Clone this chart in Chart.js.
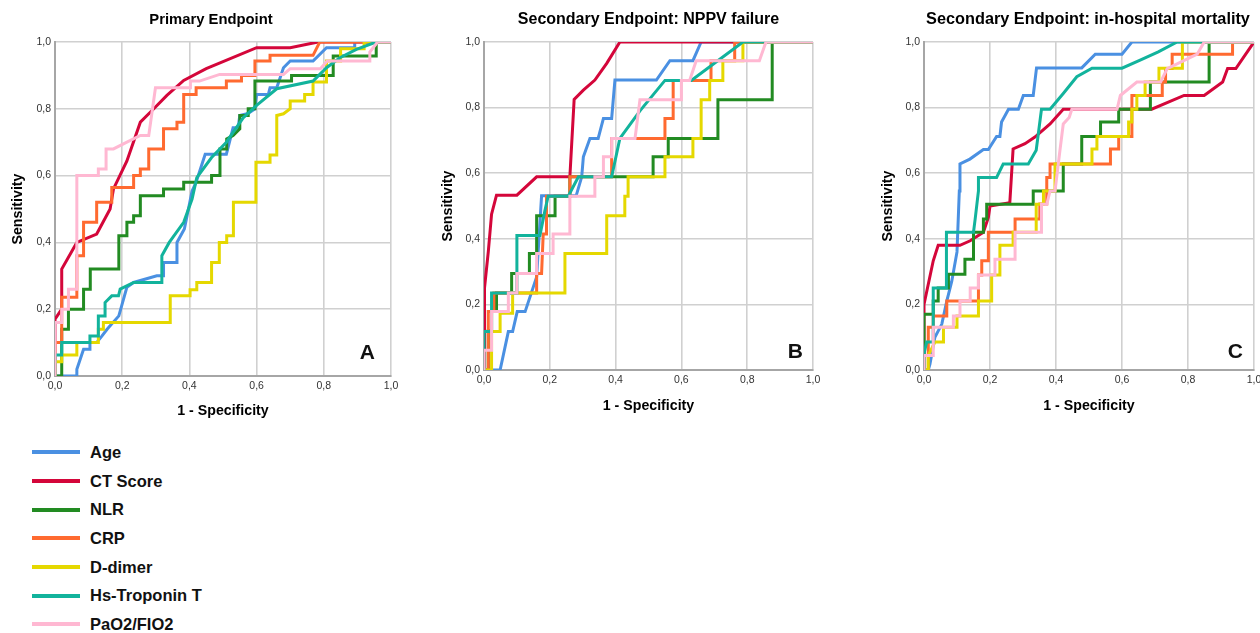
<!DOCTYPE html>
<html><head><meta charset="utf-8">
<script src="https://cdn.jsdelivr.net/npm/chart.js@4"></script>
<style>
html,body{margin:0;padding:0;background:#fff;width:1260px;height:633px;overflow:hidden;position:relative;}
canvas{position:absolute;top:0;}
#legend{position:absolute;left:32px;top:438px;font:bold 16.5px "Liberation Sans",Arial,sans-serif;color:#111;}
.row{display:flex;align-items:center;height:28.7px;white-space:nowrap;}
.sw{width:48px;height:4px;margin-right:10px;}
</style></head><body>
<canvas id="cA" width="422" height="426" style="left:0px"></canvas>
<canvas id="cB" width="436" height="420" style="left:430px"></canvas>
<canvas id="cC" width="436" height="420" style="left:870px"></canvas>
<div id="legend"></div>
<script>
// ---- labels ----
const tickLabels = ['0,0','0,2','0,4','0,6','0,8','1,0'];
const seriesNames = ['Age','CT Score','NLR','CRP','D-dimer','Hs-Troponin T','PaO2/FIO2'];
const panelTitles = ['Primary Endpoint','Secondary Endpoint: NPPV failure','Secondary Endpoint: in-hospital mortality'];
const panelLetters = ['A','B','C'];
const xTitle = '1 - Specificity';
const yTitle = 'Sensitivity';

// ---- Panel A: primary endpoint, [1-specificity, sensitivity] ----
const primaryAge = [[0,0],[0.065,0],[0.065,0.02],[0.085,0.08],[0.104,0.08],[0.104,0.1],[0.124,0.1],[0.14,0.12],[0.155,0.14],[0.19,0.18],[0.214,0.266],[0.234,0.28],[0.303,0.3],[0.323,0.3],[0.323,0.34],[0.363,0.34],[0.363,0.4],[0.385,0.44],[0.408,0.554],[0.42,0.58],[0.447,0.664],[0.51,0.664],[0.53,0.743],[0.545,0.743],[0.55,0.78],[0.575,0.786],[0.595,0.8],[0.6,0.843],[0.635,0.843],[0.64,0.863],[0.66,0.863],[0.68,0.923],[0.7,0.943],[0.768,0.943],[0.808,0.983],[0.892,0.983],[0.892,1],[1,1]];
const primaryCT = [[0,0],[0,0.17],[0.02,0.2],[0.02,0.32],[0.065,0.4],[0.124,0.425],[0.164,0.5],[0.174,0.56],[0.214,0.644],[0.254,0.76],[0.294,0.8],[0.333,0.84],[0.383,0.885],[0.45,0.92],[0.6,0.983],[0.7,0.983],[0.783,1],[1,1]];
const primaryNLR = [[0,0],[0.02,0],[0.02,0.14],[0.04,0.14],[0.04,0.2],[0.085,0.2],[0.085,0.26],[0.105,0.26],[0.105,0.32],[0.19,0.32],[0.19,0.42],[0.214,0.42],[0.214,0.46],[0.234,0.46],[0.234,0.48],[0.254,0.48],[0.254,0.54],[0.323,0.54],[0.323,0.56],[0.383,0.56],[0.383,0.58],[0.466,0.58],[0.466,0.6],[0.491,0.6],[0.491,0.68],[0.511,0.68],[0.511,0.71],[0.53,0.72],[0.55,0.74],[0.55,0.78],[0.575,0.78],[0.575,0.8],[0.595,0.8],[0.595,0.883],[0.704,0.883],[0.704,0.9],[0.828,0.9],[0.828,0.958],[0.956,0.958],[0.956,1],[1,1]];
const primaryCRP = [[0,0],[0,0.1],[0.02,0.1],[0.02,0.236],[0.065,0.236],[0.065,0.36],[0.085,0.36],[0.085,0.46],[0.124,0.46],[0.124,0.52],[0.169,0.52],[0.169,0.564],[0.234,0.564],[0.234,0.6],[0.254,0.6],[0.254,0.62],[0.279,0.62],[0.279,0.68],[0.323,0.68],[0.323,0.74],[0.363,0.74],[0.363,0.76],[0.383,0.76],[0.383,0.843],[0.42,0.843],[0.42,0.863],[0.51,0.863],[0.51,0.883],[0.555,0.883],[0.555,0.9],[0.595,0.9],[0.595,0.943],[0.64,0.943],[0.64,0.96],[0.768,0.96],[0.788,1],[1,1]];
const primaryDdimer = [[0,0],[0,0.043],[0.02,0.043],[0.02,0.063],[0.065,0.063],[0.065,0.1],[0.129,0.1],[0.129,0.14],[0.144,0.14],[0.144,0.16],[0.343,0.16],[0.343,0.24],[0.402,0.24],[0.402,0.258],[0.422,0.258],[0.422,0.28],[0.466,0.28],[0.466,0.34],[0.489,0.34],[0.489,0.4],[0.511,0.4],[0.511,0.42],[0.531,0.42],[0.531,0.52],[0.598,0.52],[0.598,0.64],[0.64,0.64],[0.64,0.662],[0.66,0.662],[0.66,0.78],[0.68,0.785],[0.7,0.8],[0.7,0.823],[0.743,0.823],[0.743,0.843],[0.768,0.843],[0.768,0.88],[0.808,0.88],[0.808,0.943],[0.85,0.943],[0.85,0.98],[0.92,0.98],[0.92,1],[1,1]];
const primaryTrop = [[0,0],[0,0.063],[0.02,0.063],[0.02,0.1],[0.104,0.1],[0.104,0.12],[0.129,0.12],[0.129,0.18],[0.149,0.18],[0.149,0.22],[0.169,0.24],[0.189,0.24],[0.194,0.26],[0.234,0.28],[0.318,0.28],[0.318,0.36],[0.34,0.4],[0.383,0.46],[0.408,0.53],[0.422,0.594],[0.466,0.654],[0.51,0.7],[0.56,0.773],[0.6,0.81],[0.66,0.86],[0.768,0.883],[0.808,0.923],[0.848,0.953],[0.897,0.978],[0.956,1],[1,1]];
const primaryPaO2 = [[0,0],[0,0.16],[0.02,0.16],[0.02,0.2],[0.04,0.2],[0.04,0.26],[0.065,0.26],[0.065,0.6],[0.129,0.6],[0.129,0.62],[0.152,0.62],[0.152,0.68],[0.174,0.68],[0.214,0.7],[0.254,0.72],[0.279,0.72],[0.299,0.863],[0.403,0.863],[0.403,0.883],[0.43,0.883],[0.49,0.903],[0.68,0.903],[0.7,0.92],[0.79,0.92],[0.81,0.943],[0.937,0.943],[0.937,0.97],[0.96,1],[1,1]];

// ---- Panel B: NPPV failure ----
const nppvAge = [[0,0],[0.049,0],[0.074,0.117],[0.087,0.117],[0.101,0.178],[0.125,0.178],[0.16,0.284],[0.175,0.531],[0.28,0.531],[0.297,0.589],[0.302,0.65],[0.322,0.706],[0.347,0.706],[0.363,0.767],[0.388,0.767],[0.398,0.884],[0.524,0.884],[0.565,0.943],[0.635,0.943],[0.66,1],[1,1]];
const nppvCT = [[0,0],[0,0.12],[0.003,0.25],[0.013,0.36],[0.023,0.475],[0.038,0.533],[0.1,0.533],[0.16,0.589],[0.261,0.589],[0.274,0.825],[0.302,0.853],[0.337,0.884],[0.373,0.935],[0.413,1],[1,1]];
const nppvNLR = [[0,0],[0.013,0],[0.013,0.12],[0.023,0.12],[0.023,0.178],[0.038,0.178],[0.038,0.235],[0.084,0.235],[0.084,0.294],[0.138,0.294],[0.138,0.355],[0.16,0.355],[0.16,0.47],[0.216,0.47],[0.216,0.53],[0.261,0.53],[0.261,0.589],[0.514,0.589],[0.514,0.65],[0.56,0.65],[0.56,0.706],[0.711,0.706],[0.711,0.824],[0.876,0.824],[0.876,1],[1,1]];
const nppvCRP = [[0,0],[0.013,0],[0.013,0.178],[0.03,0.178],[0.03,0.235],[0.16,0.235],[0.16,0.294],[0.175,0.294],[0.18,0.415],[0.19,0.415],[0.19,0.53],[0.261,0.53],[0.261,0.589],[0.388,0.589],[0.388,0.706],[0.55,0.706],[0.55,0.767],[0.575,0.767],[0.575,0.883],[0.69,0.883],[0.69,0.943],[0.762,0.943],[0.762,1],[1,1]];
const nppvDdimer = [[0,0],[0.023,0],[0.023,0.117],[0.049,0.117],[0.049,0.173],[0.087,0.173],[0.087,0.235],[0.246,0.235],[0.246,0.355],[0.373,0.355],[0.373,0.47],[0.428,0.47],[0.428,0.53],[0.438,0.53],[0.438,0.589],[0.55,0.589],[0.55,0.65],[0.635,0.65],[0.635,0.706],[0.66,0.706],[0.66,0.824],[0.686,0.824],[0.686,0.883],[0.726,0.883],[0.726,0.943],[0.787,0.943],[0.787,1],[1,1]];
const nppvTrop = [[0,0],[0,0.117],[0.023,0.117],[0.023,0.235],[0.1,0.235],[0.1,0.41],[0.17,0.41],[0.185,0.485],[0.195,0.53],[0.256,0.53],[0.287,0.589],[0.388,0.589],[0.413,0.706],[0.474,0.79],[0.55,0.883],[0.63,0.883],[0.787,1],[1,1]];
const nppvPaO2 = [[0,0],[0,0.06],[0.023,0.06],[0.023,0.178],[0.074,0.178],[0.074,0.235],[0.1,0.235],[0.1,0.294],[0.16,0.294],[0.16,0.355],[0.21,0.355],[0.21,0.415],[0.261,0.415],[0.261,0.53],[0.337,0.53],[0.337,0.589],[0.363,0.589],[0.363,0.65],[0.388,0.65],[0.388,0.706],[0.459,0.706],[0.474,0.824],[0.6,0.824],[0.6,0.883],[0.625,0.883],[0.645,0.943],[0.837,0.943],[0.857,1],[1,1]];

// ---- Panel C: in-hospital mortality ----
const mortAge = [[0,0],[0.013,0],[0.018,0.018],[0.033,0.1],[0.054,0.14],[0.069,0.21],[0.084,0.27],[0.1,0.36],[0.107,0.546],[0.109,0.628],[0.139,0.643],[0.18,0.672],[0.195,0.672],[0.22,0.712],[0.23,0.712],[0.235,0.756],[0.256,0.795],[0.286,0.795],[0.301,0.837],[0.331,0.837],[0.341,0.921],[0.478,0.921],[0.519,0.963],[0.6,0.963],[0.63,1],[1,1]];
const mortCT = [[0,0],[0,0.2],[0.028,0.333],[0.043,0.38],[0.109,0.38],[0.14,0.394],[0.18,0.42],[0.195,0.465],[0.2,0.5],[0.26,0.51],[0.27,0.674],[0.306,0.69],[0.336,0.71],[0.382,0.75],[0.422,0.795],[0.69,0.795],[0.788,0.837],[0.849,0.837],[0.905,0.878],[0.92,0.919],[0.945,0.919],[1,1]];
const mortNLR = [[0,0],[0,0.17],[0.028,0.17],[0.028,0.21],[0.043,0.21],[0.043,0.25],[0.074,0.25],[0.074,0.292],[0.124,0.292],[0.124,0.338],[0.15,0.338],[0.15,0.42],[0.18,0.42],[0.18,0.46],[0.19,0.46],[0.19,0.505],[0.331,0.505],[0.331,0.546],[0.422,0.546],[0.422,0.628],[0.478,0.628],[0.478,0.712],[0.535,0.712],[0.535,0.756],[0.59,0.756],[0.59,0.795],[0.686,0.795],[0.686,0.878],[0.864,0.878],[0.864,1],[1,1]];
const mortCRP = [[0,0],[0.013,0],[0.013,0.13],[0.028,0.13],[0.028,0.165],[0.069,0.165],[0.069,0.21],[0.165,0.21],[0.165,0.29],[0.175,0.29],[0.175,0.333],[0.195,0.333],[0.195,0.42],[0.276,0.42],[0.276,0.46],[0.351,0.46],[0.351,0.506],[0.372,0.506],[0.372,0.587],[0.382,0.587],[0.382,0.628],[0.565,0.628],[0.565,0.674],[0.59,0.674],[0.59,0.712],[0.63,0.712],[0.63,0.837],[0.722,0.837],[0.722,0.878],[0.732,0.878],[0.732,0.919],[0.752,0.919],[0.752,0.963],[0.935,0.963],[0.935,1],[1,1]];
const mortDdimer = [[0,0],[0.013,0],[0.013,0.044],[0.033,0.085],[0.059,0.085],[0.059,0.13],[0.1,0.13],[0.1,0.165],[0.165,0.165],[0.165,0.21],[0.205,0.21],[0.205,0.29],[0.23,0.29],[0.23,0.38],[0.27,0.38],[0.27,0.42],[0.34,0.42],[0.34,0.505],[0.362,0.505],[0.362,0.546],[0.397,0.546],[0.397,0.628],[0.509,0.628],[0.509,0.674],[0.524,0.674],[0.524,0.712],[0.62,0.712],[0.62,0.756],[0.63,0.756],[0.63,0.795],[0.645,0.795],[0.645,0.837],[0.67,0.837],[0.67,0.878],[0.712,0.878],[0.712,0.92],[0.783,0.92],[0.783,1],[1,1]];
const mortTrop = [[0,0],[0,0.05],[0.008,0.085],[0.028,0.085],[0.028,0.25],[0.068,0.25],[0.068,0.42],[0.15,0.42],[0.155,0.46],[0.165,0.546],[0.165,0.587],[0.22,0.587],[0.24,0.628],[0.316,0.628],[0.34,0.67],[0.356,0.795],[0.382,0.795],[0.422,0.843],[0.463,0.894],[0.509,0.92],[0.6,0.92],[0.655,0.945],[0.71,0.97],[0.767,1],[1,1]];
const mortPaO2 = [[0,0],[0,0.044],[0.028,0.044],[0.028,0.13],[0.089,0.13],[0.089,0.165],[0.109,0.165],[0.109,0.21],[0.14,0.21],[0.14,0.25],[0.165,0.25],[0.165,0.29],[0.215,0.29],[0.215,0.338],[0.276,0.338],[0.276,0.42],[0.356,0.42],[0.356,0.505],[0.372,0.505],[0.382,0.546],[0.397,0.546],[0.412,0.67],[0.422,0.75],[0.44,0.77],[0.448,0.795],[0.585,0.795],[0.595,0.837],[0.645,0.878],[0.717,0.878],[0.737,0.919],[0.828,0.963],[0.849,1],[1,1]];

// ---- styles ----
const seriesColors = ['#4a90e2','#d4063a','#228b22','#ff6a30','#e5d800','#12b39c','#ffb8d2'];
const FONT = '"Liberation Sans", Arial, sans-serif';

const panelSeries = [
  [primaryAge, primaryCT, primaryNLR, primaryCRP, primaryDdimer, primaryTrop, primaryPaO2],
  [nppvAge, nppvCT, nppvNLR, nppvCRP, nppvDdimer, nppvTrop, nppvPaO2],
  [mortAge, mortCT, mortNLR, mortCRP, mortDdimer, mortTrop, mortPaO2]
];
const panelLayout = [
  {id:'cA', yw:55, right:31, titleBottomPad:6.9, letterDx:16, letterDy:12, titleDx:-12, titleSize:14.8},
  {id:'cB', yw:54, right:53, titleBottomPad:5.9, letterDx:10, letterDy:7, titleDx:0, titleSize:16},
  {id:'cC', yw:54, right:52, titleBottomPad:5.9, letterDx:11, letterDy:7, titleDx:-1, titleSize:16.3}
];

// panel title (centred over the plot) and panel letter
const panelTextPlugin = {
  id: 'panelText',
  afterDraw(chart, args, opts) {
    const {ctx, chartArea} = chart;
    ctx.save();
    ctx.fillStyle = '#000';
    ctx.font = 'bold ' + opts.size + 'px ' + FONT;
    ctx.textAlign = 'center';
    ctx.textBaseline = 'middle';
    ctx.fillText(opts.title, (chartArea.left + chartArea.right) / 2 + opts.titleDx, 20);
    ctx.fillStyle = '#111';
    ctx.font = 'bold 21px ' + FONT;
    ctx.textAlign = 'right';
    ctx.textBaseline = 'bottom';
    ctx.fillText(opts.letter, chartArea.right - opts.dx, chartArea.bottom - opts.dy);
    ctx.restore();
  }
};

panelSeries.forEach((series, p) => {
  const L = panelLayout[p];
  const datasets = series.map((pts, i) => ({
    label: seriesNames[i],
    data: pts.map(([x, y]) => ({x, y})),
    borderColor: seriesColors[i],
    backgroundColor: seriesColors[i],
    borderWidth: 3,
    pointRadius: 0,
    showLine: true,
    tension: 0,
    fill: false,
    order: series.length - i
  }));
  const axisCommon = {
    type: 'linear', min: 0, max: 1,
    grid: {color: '#d0d0d0', lineWidth: 1.6, drawTicks: false},
    border: {color: '#a6a6a6', width: 2},
    ticks: {
      stepSize: 0.2, color: '#333', padding: 4,
      font: {family: FONT, size: 10.5},
      callback: (v, idx) => tickLabels[idx]
    }
  };
  new Chart(document.getElementById(L.id), {
    type: 'scatter',
    data: {datasets},
    plugins: [panelTextPlugin],
    options: {
      responsive: false, animation: false, events: [],
      layout: {padding: {left: 0, right: L.right, top: 42, bottom: 0}},
      plugins: {
        legend: {display: false}, tooltip: {enabled: false}, title: {display: false},
        panelText: {title: panelTitles[p], titleDx: L.titleDx, size: L.titleSize, letter: panelLetters[p], dx: L.letterDx, dy: L.letterDy}
      },
      scales: {
        x: Object.assign({}, axisCommon, {
          position: 'bottom',
          title: {display: true, text: xTitle, color: '#000',
            font: {family: FONT, size: 14.2, weight: 'bold', lineHeight: 1.2},
            padding: {top: 4, bottom: L.titleBottomPad - 0.4}},
          afterFit: (s) => { s.height = 50; }
        }),
        y: Object.assign({}, axisCommon, {
          position: 'left',
          title: {display: true, text: yTitle, color: '#000',
            font: {family: FONT, size: 14.2, weight: 'bold', lineHeight: 1.2},
            padding: {top: 9.5, bottom: 4}},
          afterFit: (s) => { s.width = L.yw; }
        })
      }
    }
  });
});

// HTML legend built from the series names
const legend = document.getElementById('legend');
seriesNames.forEach((name, i) => {
  const row = document.createElement('div');
  row.className = 'row';
  const sw = document.createElement('span');
  sw.className = 'sw';
  sw.style.background = seriesColors[i];
  const tx = document.createElement('span');
  tx.textContent = name;
  row.appendChild(sw); row.appendChild(tx);
  legend.appendChild(row);
});
</script>
</body></html>
